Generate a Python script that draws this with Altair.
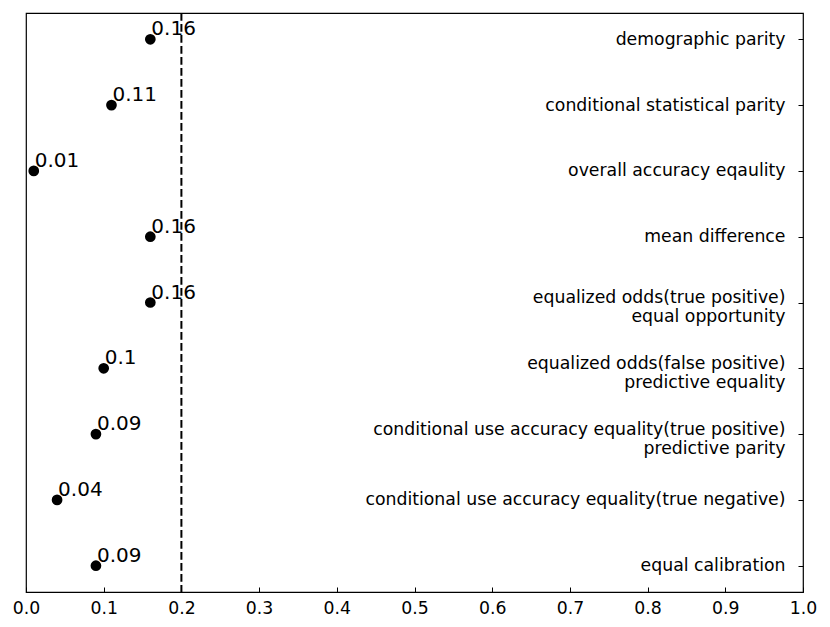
import altair as alt
import pandas as pd

metrics = [
    "demographic parity",
    "conditional statistical parity",
    "overall accuracy eqaulity",
    "mean difference",
    "equalized odds(true positive)|equal opportunity",
    "equalized odds(false positive)|predictive equality",
    "conditional use accuracy equality(true positive)|predictive parity",
    "conditional use accuracy equality(true negative)",
    "equal calibration",
]
values = [0.16, 0.11, 0.01, 0.16, 0.16, 0.1, 0.09, 0.04, 0.09]
value_labels = ["0.16", "0.11", "0.01", "0.16", "0.16", "0.1", "0.09", "0.04", "0.09"]
x_ticks = [0.0, 0.1, 0.2, 0.3, 0.4, 0.5, 0.6, 0.7, 0.8, 0.9, 1.0]
threshold = [0.2]

W, H = 777, 579
FONT = "DejaVu Sans"

df = pd.DataFrame({"metric": metrics, "value": values, "label": value_labels})
df_thr = pd.DataFrame({"t": threshold})

x_scale = alt.Scale(domain=[0, 1], nice=False, zero=False)
y_scale = alt.Scale(type="point", padding=0.4)

y_axis = alt.Axis(
    orient="left",
    offset=-W,
    title=None,
    labelExpr="split(datum.label, '|')",
    labelAlign="right",
    labelBaseline={
        "condition": {"test": "indexof(datum.value, '|') >= 0", "value": "alphabetic"},
        "value": "middle",
    },
    labelLineHeight=19,
    labelLimit=1000,
    labelOverlap=False,
    labelPadding=13,
    labelFontSize=17.3,
    labelColor="black",
    tickSize=5,
    tickColor="black",
    tickWidth=1,
    domain=False,
    grid=False,
    maxExtent=1000,
)

rule = alt.Chart(df_thr).mark_rule(
    strokeDash=[7.7, 3.3], strokeWidth=2, color="black"
).encode(x=alt.X("t:Q", scale=x_scale, axis=None))

points = alt.Chart(df).mark_circle(size=115, color="black", opacity=1).encode(
    x=alt.X(
        "value:Q",
        scale=x_scale,
        axis=alt.Axis(
            orient="bottom",
            values=x_ticks,
            format=".1f",
            ticks=False,
            tickSize=0,
            labelPadding=7,
            labelFontSize=17.3,
            labelColor="black",
            labelFlush=False,
            grid=False,
            domain=False,
            title=None,
        ),
    ),
    y=alt.Y("metric:N", sort=metrics, scale=y_scale, axis=y_axis),
)

texts = alt.Chart(df).mark_text(
    align="left", baseline="alphabetic", dx=1, dy=-4, fontSize=20, color="black"
).encode(
    x=alt.X(
        "value:Q",
        scale=x_scale,
        axis=alt.Axis(
            orient="top",
            offset=-H,
            values=x_ticks,
            labels=False,
            domain=False,
            ticks=True,
            tickSize=5,
            tickColor="black",
            tickWidth=1,
            grid=False,
            title=None,
        ),
    ),
    y=alt.Y("metric:N", sort=metrics, scale=y_scale),
    text="label:N",
)

chart = (
    alt.layer(rule, points, texts)
    .resolve_axis(x="independent")
    .properties(width=W, height=H, padding=4)
    .configure(font=FONT)
    .configure_view(stroke="black", strokeWidth=1.2)
)

chart.save("out.html", embed_options={"renderer": "svg", "actions": False})
